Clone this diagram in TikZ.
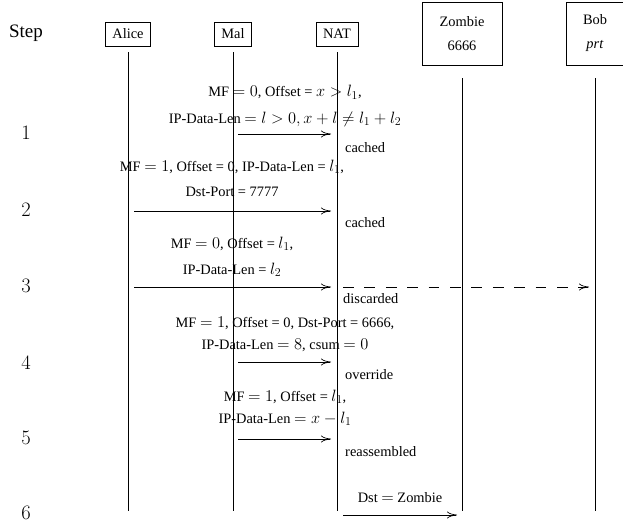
\RequirePackage{fix-cm}
\documentclass[tikz,border=0pt]{standalone}
\usepackage{fontspec}
\setmainfont{Liberation Serif}
\DeclareMathSizes{14.4}{16.4}{12}{9.5}
\DeclareMathSizes{20}{20.5}{15}{11}
\usetikzlibrary{arrows.meta}
\begin{document}
\begin{tikzpicture}[x=1pt,y=-1pt,
  font=\fontsize{14.4}{17}\selectfont,
  actor/.style={draw, line width=0.6pt, minimum height=24pt, inner xsep=7pt, inner ysep=0pt},
  bigactor/.style={draw, line width=0.6pt, minimum height=63pt, align=center,
    font=\fontsize{14.4}{24}\selectfont},
  life/.style={line width=0.8pt},
  msg/.style={line width=0.7pt, -{To[length=10pt,width=7pt]}},
  dmsg/.style={msg, dash pattern=on 10.7pt off 10.7pt},
  lbl/.style={anchor=base, inner sep=0pt},
  note/.style={anchor=base west, inner sep=0pt},
  stepno/.style={font=\fontsize{20}{23}\selectfont, inner sep=0pt}]
\useasboundingbox (0,0) rectangle (623,524);

% actors
\node[stepno, font=\fontsize{19}{22}\selectfont] (steph) at (26,33) {Step};
\node[actor] (alice) at (128,34) {Alice};
\node[actor] (mal) at (233,34) {Mal};
\node[actor] (nat) at (337,34) {NAT};
\node[bigactor, minimum width=80pt] (zombie) at (462,33.5) {Zombie\\6666};
\node[bigactor, minimum width=58pt] (bob) at (595,33.5) {Bob\\\textit{prt}};

% lifeline ends
\coordinate (aliceE) at (128,511);
\coordinate (malE) at (233,511);
\coordinate (natE) at (337,511);
\coordinate (zombieE) at (462,511);
\coordinate (bobE) at (595,511);

\draw[life] ([yshift=-6pt]alice.south) -- (aliceE);
\draw[life] ([yshift=-6pt]mal.south) -- (malE);
\draw[life] ([yshift=-6pt]nat.south) -- (natE);
\draw[life] ([yshift=-13pt]zombie.south) -- (zombieE);
\draw[life] ([yshift=-13pt]bob.south) -- (bobE);

% step numbers
\node[stepno] (s1) at (26,133) {$1$};
\node[stepno] (s2) at (26,210) {$2$};
\node[stepno] (s3) at (26,286) {$3$};
\node[stepno] (s4) at (26,363) {$4$};
\node[stepno] (s5) at (26,438) {$5$};
\node[stepno] (s6) at (26,513) {$6$};

% message end points
\coordinate (m1a) at (238,134); \coordinate (m1b) at (331,134);
\coordinate (m2a) at (134,211); \coordinate (m2b) at (331,211);
\coordinate (m3a) at (134,287); \coordinate (m3b) at (331,287);
\coordinate (m3c) at (343,287); \coordinate (m3d) at (589,287);
\coordinate (m4a) at (238,362); \coordinate (m4b) at (331,362);
\coordinate (m5a) at (238,439); \coordinate (m5b) at (331,439);
\coordinate (m6a) at (343,515); \coordinate (m6b) at (457,515);

% step 1
\node[lbl] (l1a) at (285,97) {MF $=0$, Offset = $x>l_1$,};
\node[lbl] (l1b) at (285,123) {IP-Data-Len $=l>0, x+l\neq l_1+l_2$};
\draw[msg] (m1a) -- (m1b);
\node[note] (n1) at (345,152) {cached};

% step 2
\node[lbl] (l2a) at (232,171) {MF $=1$, Offset = 0, IP-Data-Len = $l_1$,};
\node[lbl] (l2b) at (232,196) {Dst-Port = 7777};
\draw[msg] (m2a) -- (m2b);
\node[note] (n2) at (345,227) {cached};

% step 3
\node[lbl] (l3a) at (232,248) {MF $=0$, Offset = $l_1$,};
\node[lbl] (l3b) at (232,274) {IP-Data-Len = $l_2$};
\draw[msg] (m3a) -- (m3b);
\draw[dmsg] (m3c) -- (m3d);
\node[note] (n3) at (343,303) {discarded};

% step 4
\node[lbl] (l4a) at (285,327) {MF $=1$, Offset = 0, Dst-Port = 6666,};
\node[lbl] (l4b) at (285,349) {IP-Data-Len $=8$, csum $=0$};
\draw[msg] (m4a) -- (m4b);
\node[note] (n4) at (345,379) {override};

% step 5
\node[lbl] (l5a) at (285,401) {MF $=1$, Offset = $l_1$,};
\node[lbl] (l5b) at (285,423) {IP-Data-Len $=x-l_1$};
\draw[msg] (m5a) -- (m5b);
\node[note] (n5) at (345,456) {reassembled};

% step 6
\node[lbl] (l6a) at (400,502) {Dst $=$ Zombie};
\draw[msg] (m6a) -- (m6b);
\end{tikzpicture}
\end{document}
